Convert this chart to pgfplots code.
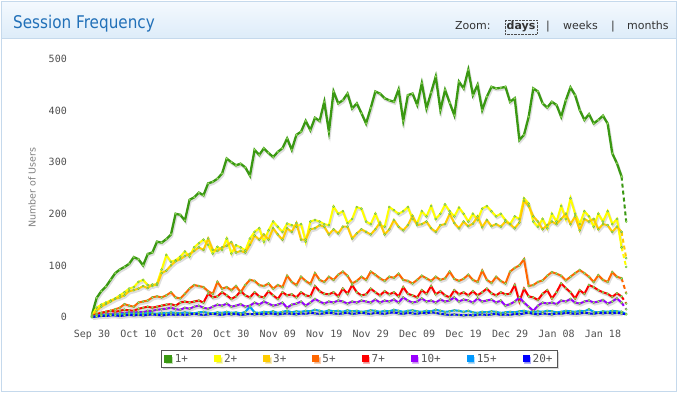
\documentclass[border=0pt]{standalone}
\usepackage{fontspec}
\setmainfont{DejaVu Sans}
\newfontfamily\titlefont[FakeStretch=0.87]{DejaVu Sans}
\newfontfamily\monofont{DejaVu Sans Mono}
\usepackage{pgfplots}
\usepackage{pgfplotstable}
\pgfplotsset{compat=1.18}
\usetikzlibrary{shadows}

\definecolor{cA}{HTML}{3A9812}
\definecolor{cB}{HTML}{FFFF00}
\definecolor{cC}{HTML}{FFCC00}
\definecolor{cD}{HTML}{FF6600}
\definecolor{cE}{HTML}{FF0000}
\definecolor{cF}{HTML}{9900FF}
\definecolor{cG}{HTML}{0099FF}
\definecolor{cH}{HTML}{0000FF}
\definecolor{mfill}{HTML}{BDEB90}
\definecolor{mdraw}{HTML}{66BB33}
\definecolor{framec}{HTML}{C5D9EC}
\definecolor{hdrtop}{HTML}{F4F9FE}
\definecolor{hdrbot}{HTML}{DDECF9}
\definecolor{titleblue}{HTML}{2170B8}
\definecolor{tickc}{HTML}{505050}
\definecolor{ylabc}{HTML}{808080}
\definecolor{legc}{HTML}{555555}

\pgfplotstableread{
d s1 s2 s3 s5 s7 s10 s15 s20
0 5 3 2 2 1 0 0 0
1 37 18 12 6 5 3 2 1
2 50 24 20 8 8 4 3 2
3 59 28 25 10 10 5 4 2
4 72 32 30 12 12 6 5 3
5 85 36 35 15 10 6 4 3
6 92 42 38 18 12 7 6 2
7 97 48 42 25 14 8 5 3
8 103 55 50 22 13 9 7 4
9 116 58 52 20 12 8 6 3
10 112 68 55 28 16 10 7 4
11 100 72 60 30 18 9 6 3
12 122 62 56 32 20 12 8 4
13 125 60 63 38 18 12 7 5
14 146 65 62 40 20 14 6 4
15 144 92 85 38 22 15 8 3
16 151 120 90 42 24 16 7 4
17 160 107 100 48 25 18 9 5
18 200 110 108 38 22 15 8 4
19 198 117 112 36 28 14 7 5
20 187 127 118 45 30 18 9 4
21 227 117 122 55 28 16 8 5
22 232 135 128 62 30 20 7 6
23 241 143 135 60 32 22 9 5
24 236 150 130 58 28 18 10 4
25 259 140 152 50 45 16 8 5
26 262 123 130 45 38 20 7 6
27 268 136 128 68 40 24 9 5
28 278 130 135 55 48 22 8 4
29 307 152 138 58 42 26 10 6
30 300 123 145 52 35 20 8 5
31 294 139 125 60 40 22 9 6
32 297 135 128 48 50 25 7 4
33 290 129 125 62 42 20 10 5
34 274 152 140 72 38 22 20 6
35 324 165 158 70 48 28 9 5
36 314 172 150 62 40 24 8 6
37 327 146 160 60 38 30 10 5
38 318 168 150 65 50 26 9 7
39 310 185 172 55 42 22 11 6
40 320 175 160 62 35 24 8 5
41 327 165 150 58 48 28 10 6
42 346 181 172 80 42 18 12 7
43 324 178 165 68 44 24 9 6
44 353 175 182 62 38 26 11 5
45 359 180 150 78 48 30 10 7
46 380 146 150 70 42 22 12 6
47 362 185 170 64 40 28 11 8
48 386 188 172 85 60 35 14 7
49 380 185 178 72 50 30 12 6
50 417 180 175 68 45 26 10 7
51 359 178 160 78 44 30 13 8
52 437 214 170 72 48 28 11 7
53 414 200 162 82 40 32 12 6
54 420 205 175 88 55 30 10 7
55 433 182 175 80 45 26 13 8
56 404 190 152 65 62 30 11 6
57 414 213 162 70 48 28 12 7
58 395 210 170 78 42 32 10 8
59 375 185 165 72 44 30 11 7
60 405 180 160 88 55 28 13 6
61 437 200 170 82 48 34 12 8
62 433 178 183 75 42 28 10 7
63 424 175 160 70 50 32 12 6
64 420 213 170 78 44 30 11 8
65 417 207 188 76 48 34 14 9
66 441 200 175 84 40 28 12 7
67 380 205 168 72 58 38 10 6
68 430 213 178 70 45 32 12 8
69 433 190 196 65 42 28 13 7
70 411 182 178 72 38 30 11 6
71 453 205 180 80 52 36 10 8
72 404 195 185 75 45 30 12 7
73 435 215 172 70 60 32 11 9
74 466 190 165 78 44 28 14 8
75 401 200 178 72 50 34 12 6
76 440 218 180 75 42 30 10 5
77 415 205 200 88 38 32 11 4
78 391 195 182 74 52 38 13 5
79 456 212 172 70 44 30 12 4
80 443 200 185 74 48 34 10 3
81 479 185 176 82 42 32 12 4
82 430 200 181 72 50 28 9 3
83 450 188 195 68 42 36 8 4
84 401 210 174 90 48 30 10 5
85 427 215 188 72 55 32 9 4
86 446 205 176 66 46 34 11 5
87 443 195 180 78 42 28 10 6
88 444 200 175 70 48 32 8 4
89 446 188 185 65 44 22 9 5
90 417 180 180 88 45 25 10 4
91 424 195 172 95 62 30 9 6
92 343 190 183 100 30 38 11 5
93 353 230 225 112 55 28 12 7
94 388 220 215 60 40 20 10 8
95 443 185 195 62 38 12 9 6
96 437 175 185 68 33 22 11 5
97 414 190 170 71 45 28 10 7
98 406 172 178 80 52 26 12 6
99 417 200 185 87 36 28 11 5
100 411 185 180 84 48 25 9 7
101 388 215 190 80 65 32 10 6
102 420 190 200 71 56 30 12 8
103 445 230 180 78 48 35 11 7
104 430 200 195 85 36 28 10 6
105 401 180 168 91 52 26 12 7
106 382 205 190 85 45 30 11 8
107 393 195 185 78 62 32 15 7
108 375 175 190 68 58 28 10 6
109 382 200 170 81 52 30 9 8
110 390 185 180 72 48 33 11 7
111 375 205 178 68 45 26 10 8
112 317 180 165 87 39 30 12 7
113 298 190 175 78 46 36 11 8
114 272 135 165 75 40 28 10 7
115 185 97 114 46 26 15 6 5
}\sessiondata

\begin{document}
\begin{tikzpicture}[x=1pt,y=1pt]
\useasboundingbox (0,0) rectangle (678,393);
\fill[white] (0,0) rectangle (678,393);
\shade[top color=hdrtop, bottom color=hdrbot] (1.5,354.5) rectangle (676.5,391.5);
\draw[framec, line width=1pt] (1.5,1.5) rectangle (676.5,391.5);
\draw[framec, line width=1pt] (1.5,354.5) -- (676.5,354.5);
\node[anchor=base west, inner sep=0pt, text=titleblue, font=\titlefont\fontsize{17.5}{20}\selectfont] at (13,364) {Session Frequency};
\begin{scope}[every node/.style={anchor=base west, inner sep=0pt, text=black!80, font=\fontsize{11}{13}\selectfont}]
\node at (455,363) {Zoom:};
\node[font=\bfseries\fontsize{11}{13}\selectfont, draw=black!70, densely dotted, inner sep=1.5pt] at (505,363) {days};
\node at (546,363) {|};
\node at (563,363) {weeks};
\node at (611,363) {|};
\node at (627,363) {months};
\end{scope}
\begin{axis}[
  at={(92pt,76pt)}, anchor=south west,
  scale only axis, width=534.2pt, height=258pt,
  xmin=0, xmax=115, ymin=0, ymax=500,
  clip=false,
  axis line style={draw=none},
  major tick length=0pt,
  xtick={0,10,...,110},
  xticklabels={Sep 30,Oct 10,Oct 20,Oct 30,Nov 09,Nov 19,Nov 29,Dec 09,Dec 19,Dec 29,Jan 08,Jan 18},
  ytick={0,100,...,500},
  /pgf/number format/assume math mode=true,
  ticklabel style={font=\monofont\fontsize{10}{12}\selectfont, text=tickc},
  xticklabel style={anchor=north, inner sep=0pt, yshift=-13pt},
  yticklabel style={anchor=east, inner sep=0pt, xshift=-25pt},
  ylabel={Number of Users},
  every axis y label/.style={at={(axis cs:-12.9,250)}, rotate=90, anchor=center, font=\fontsize{9.5}{11}\selectfont, text=ylabc},
  legend columns=8,
  legend style={at={(0.5008,-0.1628)}, anchor=center, draw=legc, line width=1.2pt, fill=white,
    drop shadow={shadow xshift=1.5pt, shadow yshift=-1.5pt, opacity=0.3},
    font=\monofont\fontsize{11}{13}\selectfont, text=legc, inner xsep=3pt, inner ysep=1.5pt,
    /tikz/every odd column/.append style={column sep=1pt},
    /tikz/every even column/.append style={column sep=24pt}},
  legend image code/.code={\fill[#1] (0pt,-2.5pt) rectangle (5pt,2.5pt);},
  shd/.style={draw=black!13, line width=2.4pt, no markers, xshift=1pt, yshift=-1.8pt, forget plot, restrict x to domain=0:114},
  ser/.style={color=#1, line width=2pt, mark=*, mark size=1.05pt, mark options={solid, fill=mfill, draw=mdraw, line width=0.35pt}, restrict x to domain=0:114},
  tail/.style={color=#1, line width=2pt, dash pattern=on 4pt off 3pt, mark=*, mark size=1.05pt, mark options={solid, fill=mfill, draw=mdraw, line width=0.35pt}, forget plot, restrict x to domain=114:115},
]
\addplot[shd] table[x=d,y=s1] {\sessiondata};
\addplot[shd] table[x=d,y=s2] {\sessiondata};
\addplot[shd] table[x=d,y=s3] {\sessiondata};
\addplot[shd] table[x=d,y=s5] {\sessiondata};
\addplot[shd] table[x=d,y=s7] {\sessiondata};
\addplot[shd] table[x=d,y=s10] {\sessiondata};
\addplot[shd] table[x=d,y=s15] {\sessiondata};
\addplot[shd] table[x=d,y=s20] {\sessiondata};

\addplot[ser=cA, line width=2.3pt] table[x=d,y=s1] {\sessiondata};
\addplot[ser=cB] table[x=d,y=s2] {\sessiondata};
\addplot[ser=cC] table[x=d,y=s3] {\sessiondata};
\addplot[ser=cD] table[x=d,y=s5] {\sessiondata};
\addplot[ser=cE] table[x=d,y=s7] {\sessiondata};
\addplot[ser=cF] table[x=d,y=s10] {\sessiondata};
\addplot[ser=cG] table[x=d,y=s15] {\sessiondata};
\addplot[ser=cH] table[x=d,y=s20] {\sessiondata};
\legend{1+,2+,3+,5+,7+,10+,15+,20+}

\addplot[tail=cA] table[x=d,y=s1] {\sessiondata};
\addplot[tail=cB] table[x=d,y=s2] {\sessiondata};
\addplot[tail=cC] table[x=d,y=s3] {\sessiondata};
\addplot[tail=cD] table[x=d,y=s5] {\sessiondata};
\addplot[tail=cE] table[x=d,y=s7] {\sessiondata};
\addplot[tail=cF] table[x=d,y=s10] {\sessiondata};
\addplot[tail=cG] table[x=d,y=s15] {\sessiondata};
\addplot[tail=cH] table[x=d,y=s20] {\sessiondata};
\end{axis}
\end{tikzpicture}
\end{document}
